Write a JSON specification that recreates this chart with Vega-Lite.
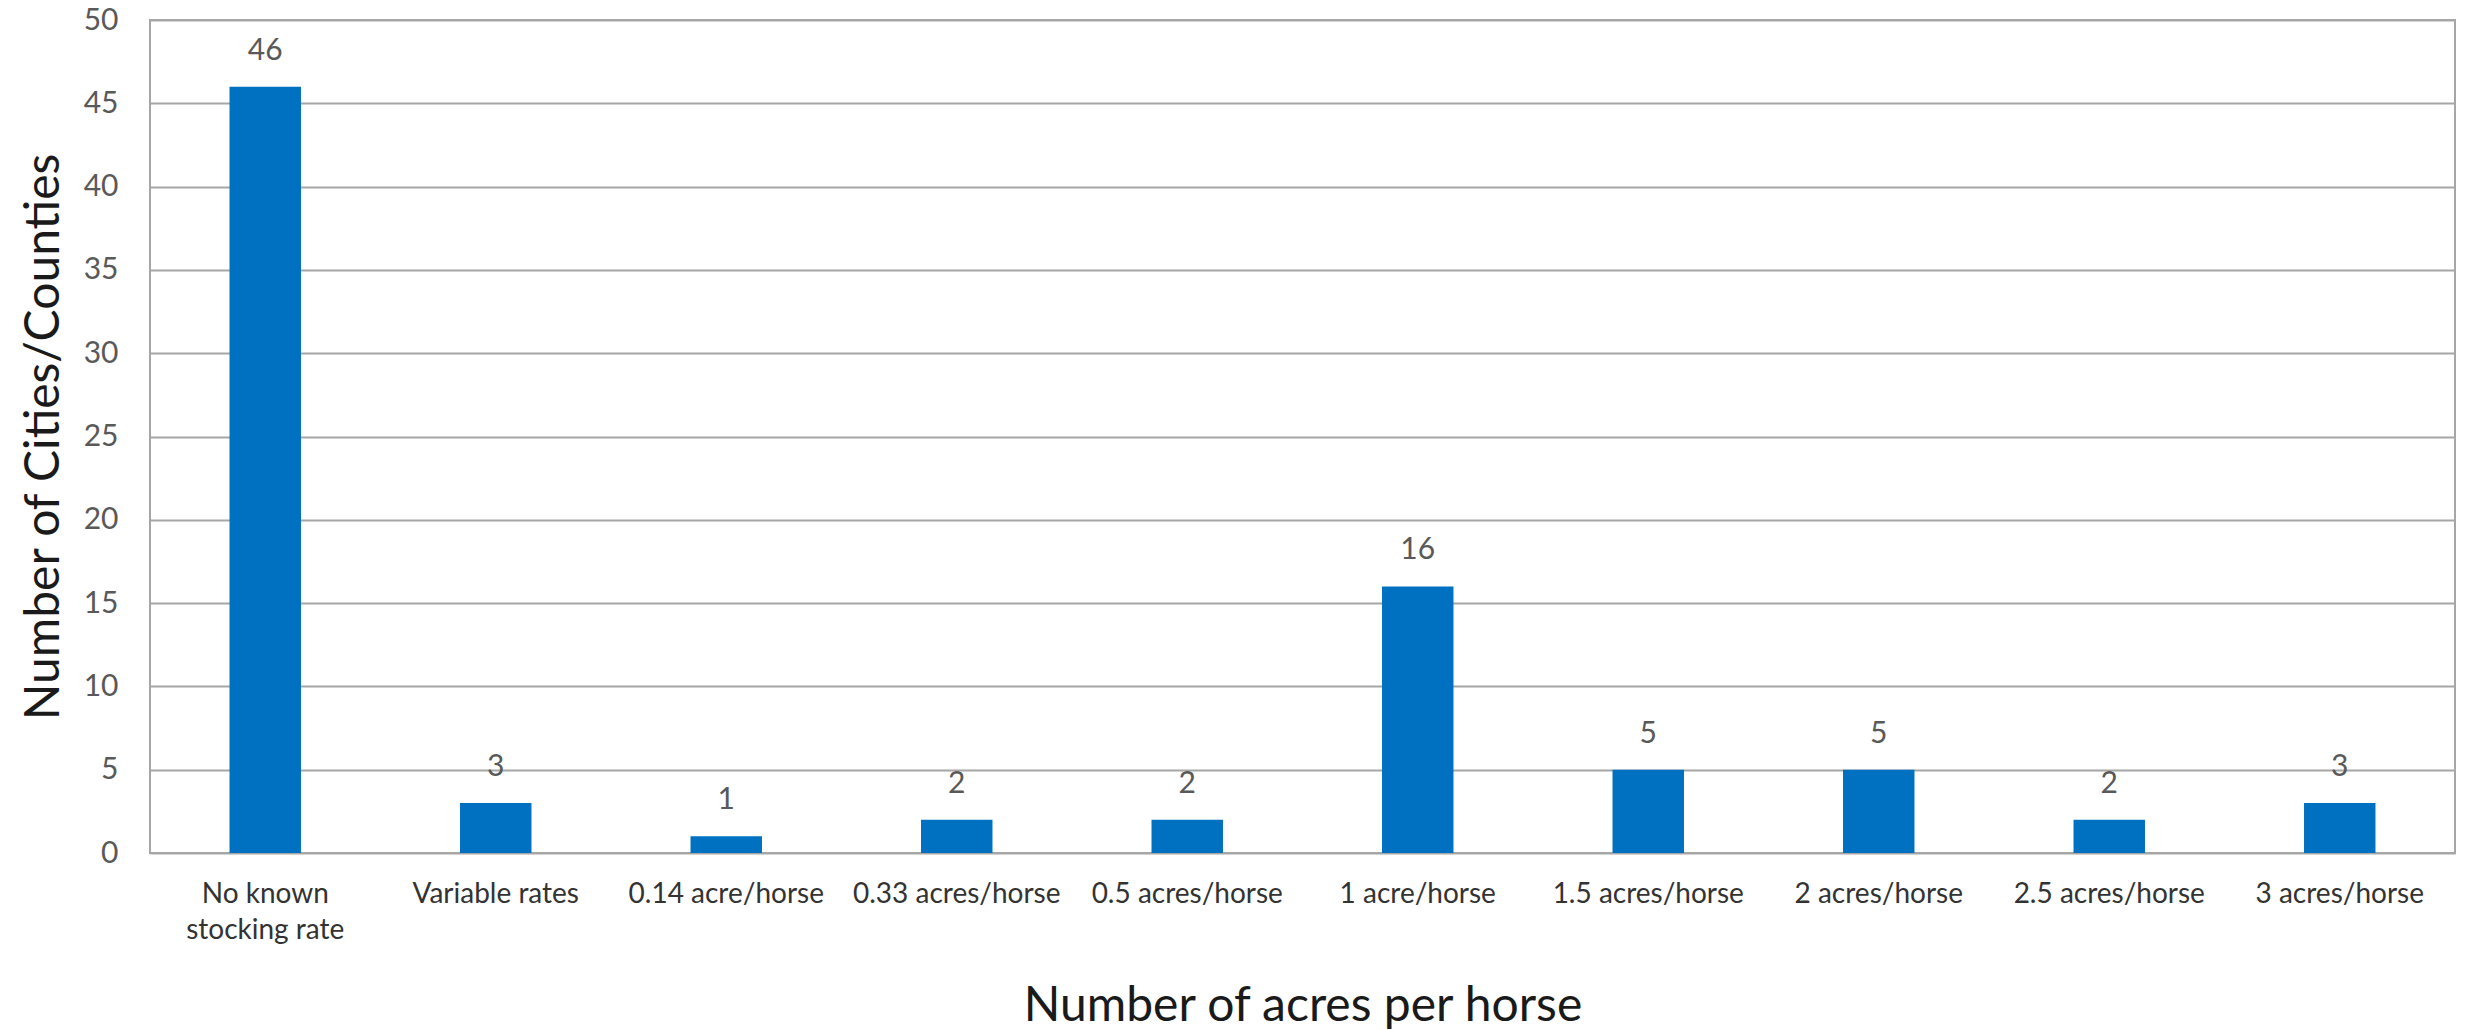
{
  "$schema": "https://vega.github.io/schema/vega-lite/v6.json",
  "autosize": "none",
  "width": 2305,
  "height": 833,
  "padding": {"left": 150, "top": 20, "right": 21, "bottom": 177},
  "background": "white",
  "config": {
    "font": "Lato",
    "view": {"stroke": "#a6a6a6", "strokeWidth": 2},
    "axis": {"domain": false, "ticks": false, "grid": false}
  },
  "data": {
    "values": [
      {"category": "No known stocking rate", "count": 46},
      {"category": "Variable rates", "count": 3},
      {"category": "0.14 acre/horse", "count": 1},
      {"category": "0.33 acres/horse", "count": 2},
      {"category": "0.5 acres/horse", "count": 2},
      {"category": "1 acre/horse", "count": 16},
      {"category": "1.5 acres/horse", "count": 5},
      {"category": "2 acres/horse", "count": 5},
      {"category": "2.5 acres/horse", "count": 2},
      {"category": "3 acres/horse", "count": 3}
    ]
  },
  "encoding": {
    "x": {
      "field": "category",
      "type": "nominal",
      "sort": null,
      "scale": {"paddingInner": 0.69, "paddingOuter": 0.345},
      "axis": {
        "title": "Number of acres per horse",
        "titleFontSize": 48,
        "titleFontWeight": "normal",
        "titleColor": "#1a1a1a",
        "titlePadding": 38,
        "labelAngle": 0,
        "labelFontSize": 28,
        "labelColor": "#333333",
        "labelPadding": 27,
        "labelLineHeight": 36,
        "labelLimit": 0,
        "labelExpr": "datum.value == 'No known stocking rate' ? ['No known', 'stocking rate'] : datum.value"
      }
    }
  },
  "layer": [
    {
      "mark": {"type": "bar", "color": "#0070C0"},
      "encoding": {
        "y": {
          "field": "count",
          "type": "quantitative",
          "scale": {"domain": [0, 50], "nice": false},
          "axis": {
            "title": "Number of Cities/Counties",
            "titleFontSize": 48,
            "titleFontWeight": "normal",
            "titleColor": "#1a1a1a",
            "titlePadding": 15,
            "values": [0, 5, 10, 15, 20, 25, 30, 35, 40, 45, 50],
            "grid": true,
            "gridColor": "#a6a6a6",
            "gridWidth": 2,
            "labelFontSize": 30,
            "labelColor": "#595959",
            "labelPadding": 32
          }
        }
      }
    },
    {
      "mark": {"type": "text", "baseline": "alphabetic", "dy": -27, "fontSize": 30, "color": "#595959"},
      "encoding": {
        "y": {"field": "count", "type": "quantitative"},
        "text": {"field": "count", "type": "quantitative"}
      }
    }
  ]
}
